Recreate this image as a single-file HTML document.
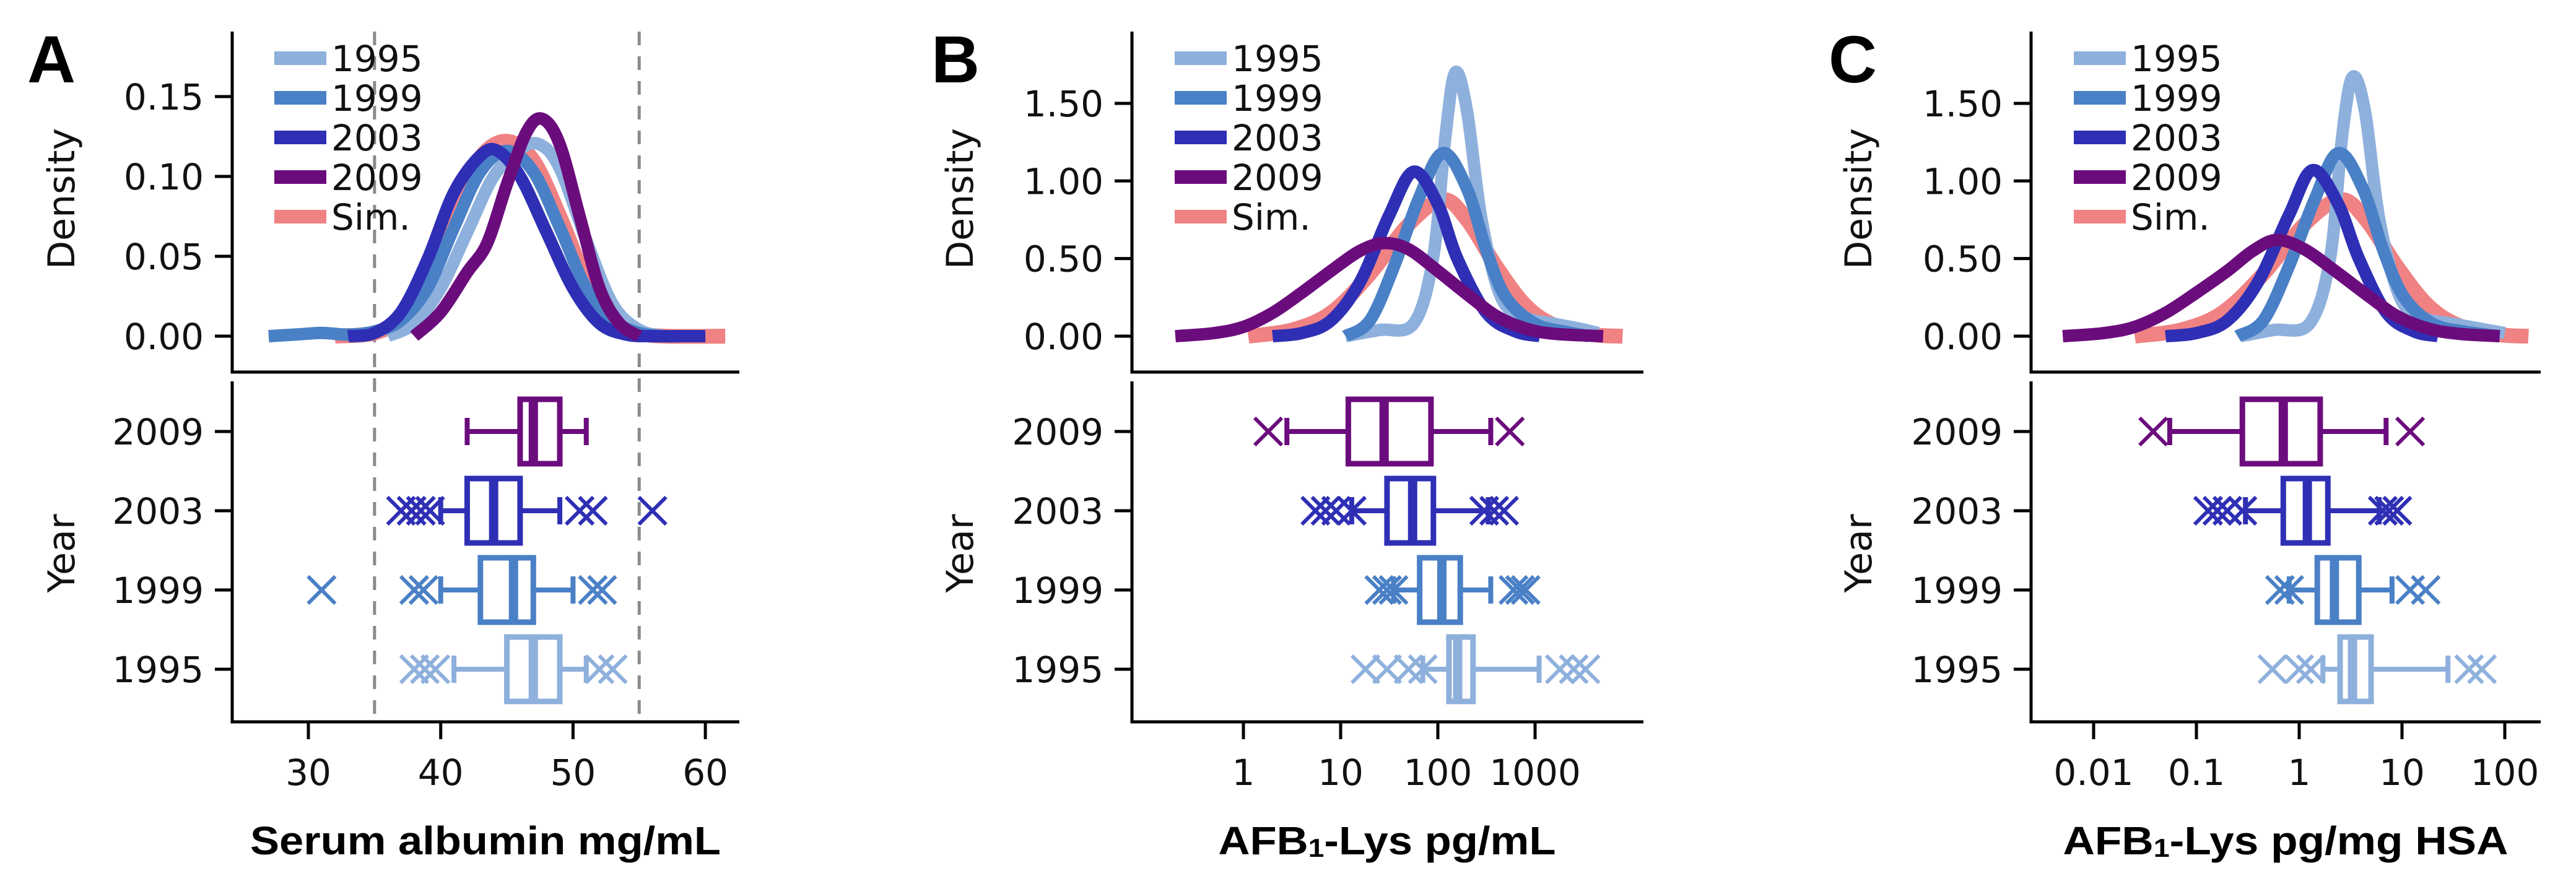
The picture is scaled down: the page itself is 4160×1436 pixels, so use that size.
<!DOCTYPE html>
<html><head><meta charset="utf-8">
<style>
html,body{margin:0;padding:0;background:#fff;}
svg{display:block;font-family:"DejaVu Sans","Liberation Sans",sans-serif;}
</style></head>
<body>
<svg id="fig" width="4160" height="1436" viewBox="0 0 4160 1436" xmlns="http://www.w3.org/2000/svg">
<rect x="0" y="0" width="4160" height="1436" fill="#fff"/>
</svg>
<script>
// ---------- shared data ----------
const seriesNames = ["Sim.", "1995", "1999", "2003", "2009"];
const legendNames = ["1995", "1999", "2003", "2009", "Sim."];
const yearCats = ["2009", "2003", "1999", "1995"];
const densityTicksA = [0, 0.05, 0.10, 0.15];
const densityTickLabelsA = ["0.00", "0.05", "0.10", "0.15"];
const densityTicksB = [0, 0.5, 1.0, 1.5];
const densityTickLabelsB = ["0.00", "0.50", "1.00", "1.50"];
const xTicksA = [30, 40, 50, 60];
const xTickLabelsA = ["30", "40", "50", "60"];
const xTicksB = [0, 1, 2, 3];
const xTickLabelsB = ["1", "10", "100", "1000"];
const xTicksC = [-2, -1, 0, 1, 2];
const xTickLabelsC = ["0.01", "0.1", "1", "10", "100"];
const refLinesA = [35, 55];

// ---------- Panel A density (x = mg/mL) ----------
const densA_sim_x = [32, 35, 37, 39, 41, 43, 45, 47, 49, 51, 53, 55, 57, 61.5];
const densA_sim_y = [0, 0.002, 0.012, 0.04, 0.08, 0.112, 0.122, 0.11, 0.075, 0.035, 0.01, 0.002, 0, 0];
const densA_1995_x = [36, 38, 40, 42, 44, 46, 47.5, 49, 51, 53, 55, 57];
const densA_1995_y = [0, 0.008, 0.03, 0.065, 0.1, 0.117, 0.12, 0.105, 0.06, 0.02, 0.004, 0];
const densA_1999_x = [27, 29, 31, 33, 35, 37, 39, 41, 43, 45, 47, 49, 51, 53, 55, 57, 58];
const densA_1999_y = [0, 0.001, 0.002, 0.001, 0.003, 0.01, 0.03, 0.068, 0.103, 0.116, 0.103, 0.068, 0.03, 0.01, 0.002, 0, 0];
const densA_2003_x = [33, 35, 37, 39, 41, 43, 44.3, 46, 48, 50, 52, 54, 56, 58, 60];
const densA_2003_y = [0, 0.002, 0.015, 0.048, 0.09, 0.113, 0.116, 0.1, 0.065, 0.03, 0.008, 0.001, 0, 0, 0];
const densA_2009_x = [38, 40, 42, 43.5, 45, 46.5, 47.7, 49, 50.5, 52, 53.5, 55];
const densA_2009_y = [0, 0.015, 0.04, 0.058, 0.095, 0.128, 0.136, 0.12, 0.075, 0.03, 0.008, 0];

// ---------- Panel B density (x = log10 pg/mL) ----------
const densB_sim_x = [0.05, 0.5, 0.9, 1.3, 1.7, 2.05, 2.3, 2.6, 2.9, 3.2, 3.6, 3.9];
const densB_sim_y = [0, 0.04, 0.15, 0.4, 0.72, 0.88, 0.75, 0.45, 0.2, 0.07, 0.01, 0];
const densB_1995_x = [1.05, 1.4, 1.75, 1.95, 2.08, 2.18, 2.3, 2.45, 2.65, 2.9, 3.2, 3.45, 3.65];
const densB_1995_y = [0, 0.04, 0.08, 0.5, 1.3, 1.7, 1.45, 0.75, 0.25, 0.12, 0.08, 0.05, 0.02];
const densB_1999_x = [1.05, 1.3, 1.55, 1.8, 2.05, 2.3, 2.5, 2.7, 3.0, 3.3, 3.55];
const densB_1999_y = [0, 0.1, 0.45, 0.88, 1.18, 0.95, 0.55, 0.25, 0.08, 0.03, 0];
const densB_2003_x = [0.3, 0.6, 0.9, 1.2, 1.5, 1.75, 2.0, 2.2, 2.5, 2.8, 3.05];
const densB_2003_y = [0, 0.02, 0.1, 0.35, 0.78, 1.06, 0.85, 0.5, 0.15, 0.03, 0];
const densB_2009_x = [-0.7, -0.3, 0, 0.3, 0.6, 0.9, 1.2, 1.45, 1.7, 2.0, 2.3, 2.6, 2.9, 3.2, 3.7];
const densB_2009_y = [0, 0.02, 0.06, 0.15, 0.28, 0.42, 0.55, 0.6, 0.56, 0.42, 0.27, 0.13, 0.05, 0.015, 0];

// ---------- Panel C density (x = log10 pg/mg HSA) ----------
const densC_sim_x = [-1.6, -1.15, -0.75, -0.35, 0.05, 0.4, 0.65, 0.95, 1.25, 1.55, 1.95, 2.23];
const densC_sim_y = [0, 0.04, 0.15, 0.4, 0.72, 0.88, 0.75, 0.45, 0.2, 0.07, 0.01, 0];
const densC_1995_x = [-0.57, -0.25, 0.1, 0.3, 0.42, 0.52, 0.64, 0.78, 0.98, 1.2, 1.5, 1.75, 2.0];
const densC_1995_y = [0, 0.04, 0.08, 0.5, 1.3, 1.67, 1.45, 0.75, 0.25, 0.12, 0.08, 0.05, 0.02];
const densC_1999_x = [-0.6, -0.35, -0.1, 0.15, 0.38, 0.62, 0.82, 1.02, 1.3, 1.6, 1.95];
const densC_1999_y = [0, 0.1, 0.45, 0.88, 1.18, 0.95, 0.55, 0.25, 0.08, 0.03, 0];
const densC_2003_x = [-1.3, -1.0, -0.7, -0.4, -0.1, 0.13, 0.38, 0.58, 0.85, 1.12, 1.35];
const densC_2003_y = [0, 0.02, 0.1, 0.35, 0.78, 1.07, 0.85, 0.5, 0.15, 0.03, 0];
const densC_2009_x = [-2.3, -1.9, -1.6, -1.3, -1.0, -0.7, -0.45, -0.22, 0.05, 0.35, 0.65, 0.95, 1.25, 1.55, 1.95];
const densC_2009_y = [0, 0.02, 0.06, 0.15, 0.28, 0.42, 0.55, 0.62, 0.56, 0.42, 0.27, 0.13, 0.05, 0.015, 0];

// ---------- Box plot stats: [whiskerLo, q1, median, q3, whiskerHi] by year (2009,2003,1999,1995) ----------
const boxA = [[42, 46, 47, 49, 51], [40, 42, 44, 46, 49], [40, 43, 45.5, 47, 50], [41, 45, 47, 49, 51]];
const outA = [[], [37, 37.8, 38.5, 39.2, 50.5, 51.5, 56], [31, 38, 38.7, 51.5, 52.2], [38, 38.8, 39.6, 52, 53]];
const boxB = [[2.8, 12, 28, 85, 350], [13, 30, 55, 90, 330], [35, 65, 110, 170, 350], [70, 130, 160, 230, 1100]];
const outB = [[1.8, 550], [5.5, 7, 9, 13, 300, 380, 480], [25, 30, 35, 600, 700, 800], [18, 30, 50, 70, 1800, 2500, 3300]];
const boxC = [[0.055, 0.28, 0.7, 1.6, 7], [0.3, 0.7, 1.2, 1.9, 6], [0.8, 1.5, 2.2, 3.8, 8], [1.7, 2.5, 3.3, 5, 28]];
const outC = [[0.038, 12], [0.13, 0.16, 0.2, 0.28, 6.5, 7.5, 9], [0.65, 0.8, 12, 17], [0.55, 1.0, 1.3, 45, 60]];

// ---------- rendering ----------
const NS = "http://www.w3.org/2000/svg";
const svg = document.getElementById("fig");
const colors = {"1995": "#8eb0dc", "1999": "#4a80c6", "2003": "#2f2fb5", "2009": "#6b0c7d", "Sim.": "#f08283"};
function mk(tag, attrs, parent) {
  const e = document.createElementNS(NS, tag);
  for (const k in attrs) e.setAttribute(k, attrs[k]);
  (parent || svg).appendChild(e);
  return e;
}
function smoothPath(pts) {
  let d = "M" + pts[0][0].toFixed(1) + "," + pts[0][1].toFixed(1);
  for (let i = 0; i < pts.length - 1; i++) {
    const p0 = pts[Math.max(0, i - 1)], p1 = pts[i], p2 = pts[i + 1], p3 = pts[Math.min(pts.length - 1, i + 2)];
    const c1x = p1[0] + (p2[0] - p0[0]) / 6, c1y = p1[1] + (p2[1] - p0[1]) / 6;
    const c2x = p2[0] - (p3[0] - p1[0]) / 6, c2y = p2[1] - (p3[1] - p1[1]) / 6;
    d += " C" + c1x.toFixed(1) + "," + c1y.toFixed(1) + " " + c2x.toFixed(1) + "," + c2y.toFixed(1) + " " + p2[0].toFixed(1) + "," + p2[1].toFixed(1);
  }
  return d;
}
const TOP = 51, TOPBOT = 601, BOTTOP = 616, BOTBOT = 1166;
const yearY = {"2009": 697, "2003": 825, "1999": 953, "1995": 1081};

function panel(cfg) {
  const g = mk("g", {});
  
  
  const xs = cfg.xs, yd = v => 543 - v * cfg.dpx;
  const L = mk("text", {x: cfg.letterX, y: 133, "font-size": 108, "font-weight": "bold", fill: "#000", "font-family": "Liberation Sans, sans-serif"}, g);
  L.textContent = cfg.id;
  
  
  (cfg.refs || []).forEach(r => {
    const l = mk("line", {x1: xs(r), x2: xs(r), y1: TOP, y2: BOTBOT, stroke: "#8a8a8a", "stroke-width": 5, "stroke-dasharray": "22 18"}, g);
    
    
  });
  const ax = mk("path", {d: `M${cfg.sx},${TOP} V${TOPBOT} H${cfg.ex} M${cfg.sx},${BOTTOP} V${BOTBOT} H${cfg.ex}`, stroke: "#000", "stroke-width": 5, fill: "none"}, g);
  
  
  cfg.dTicks.forEach((t, i) => {
    const y = yd(t);
    const tl = mk("line", {x1: cfg.sx - 28, x2: cfg.sx, y1: y, y2: y, stroke: "#000", "stroke-width": 5}, g);
    
    
    const tx = mk("text", {x: cfg.sx - 46, y: y + 21, "font-size": 58, "text-anchor": "end", fill: "#111"}, g);
    tx.textContent = cfg.dLabels[i];
    
    
  });
  yearCats.forEach(c => {
    const y = yearY[c];
    const tl = mk("line", {x1: cfg.sx - 28, x2: cfg.sx, y1: y, y2: y, stroke: "#000", "stroke-width": 5}, g);
    
    
    const tx = mk("text", {x: cfg.sx - 46, y: y + 21, "font-size": 58, "text-anchor": "end", fill: "#111"}, g);
    tx.textContent = c;
    
    
  });
  cfg.xTicks.forEach((t, i) => {
    const x = xs(t);
    const tl = mk("line", {x1: x, x2: x, y1: BOTBOT, y2: BOTBOT + 28, stroke: "#000", "stroke-width": 5}, g);
    
    
    const tx = mk("text", {x: x, y: 1268, "font-size": 58, "text-anchor": "middle", fill: "#111"}, g);
    tx.textContent = cfg.xLabels[i];
    
    
  });
  const d1 = mk("text", {x: 0, y: 0, "font-size": 60, "text-anchor": "middle", fill: "#111", transform: `translate(${cfg.ylabX + 20},321) rotate(-90)`}, g);
  d1.textContent = "Density";
  
  
  const d2 = mk("text", {x: 0, y: 0, "font-size": 60, "text-anchor": "middle", fill: "#111", transform: `translate(${cfg.ylabX + 20},894) rotate(-90)`}, g);
  d2.textContent = "Year";
  
  
  const xt = mk("text", {x: cfg.xlabX, y: 1380, "font-size": 64, "font-weight": "bold", "text-anchor": "middle", fill: "#000", textLength: cfg.xlabW, lengthAdjust: "spacingAndGlyphs", "font-family": "Liberation Sans, sans-serif"}, g);
  xt.innerHTML = cfg.xlab;
  
  
  seriesNames.forEach(s => {
    const dx = cfg.dens[s][0], dy = cfg.dens[s][1];
    const pts = dx.map((v, i) => [xs(v), yd(dy[i])]);
    const p = mk("path", {d: smoothPath(pts), fill: "none", stroke: colors[s], "stroke-width": s === "Sim." ? 24 : 20, "stroke-linejoin": "round"}, g);
    
    
  });
  legendNames.forEach((s, i) => {
    const y = 94 + i * 64;
    const l = mk("line", {x1: cfg.legX, x2: cfg.legX + 84, y1: y, y2: y, stroke: colors[s], "stroke-width": 22}, g);
    
    
    const t = mk("text", {x: cfg.legX + 92, y: y + 21, "font-size": 58, fill: "#111"}, g);
    t.textContent = s;
    
    
  });
  yearCats.forEach((c, i) => {
    const b = cfg.box[i], col = colors[c], y = yearY[c], h = 52;
    const bg = mk("g", {}, g);
    
    
    mk("line", {x1: xs(cfg.tf(b[0])), x2: xs(cfg.tf(b[1])), y1: y, y2: y, stroke: col, "stroke-width": 8}, bg);
    mk("line", {x1: xs(cfg.tf(b[3])), x2: xs(cfg.tf(b[4])), y1: y, y2: y, stroke: col, "stroke-width": 8}, bg);
    mk("line", {x1: xs(cfg.tf(b[0])), x2: xs(cfg.tf(b[0])), y1: y - 22, y2: y + 22, stroke: col, "stroke-width": 8}, bg);
    mk("line", {x1: xs(cfg.tf(b[4])), x2: xs(cfg.tf(b[4])), y1: y - 22, y2: y + 22, stroke: col, "stroke-width": 8}, bg);
    mk("rect", {x: xs(cfg.tf(b[1])), y: y - h, width: xs(cfg.tf(b[3])) - xs(cfg.tf(b[1])), height: 2 * h, fill: "#fff", stroke: col, "stroke-width": 9}, bg);
    mk("line", {x1: xs(cfg.tf(b[2])), x2: xs(cfg.tf(b[2])), y1: y - h, y2: y + h, stroke: col, "stroke-width": 15}, bg);
    cfg.out[i].forEach(o => {
      const x = xs(cfg.tf(o)), r = 22;
      const m = mk("path", {d: `M${x - r},${y - r} L${x + r},${y + r} M${x - r},${y + r} L${x + r},${y - r}`, stroke: col, "stroke-width": 6, fill: "none"}, bg);
      
      
    });
  });
}

const id = v => v, lg = v => Math.log10(v);
panel({id: "A", letterX: 44, sx: 375, ex: 1194, xs: v => 498 + (v - 30) * 21.37, dpx: 2580,
  dTicks: densityTicksA, dLabels: densityTickLabelsA, xTicks: xTicksA, xLabels: xTickLabelsA,
  refs: refLinesA, ylabX: 100, legX: 443, xlabX: 784, xlabW: 760, xlab: "Serum albumin mg/mL",
  dens: {"Sim.": [densA_sim_x, densA_sim_y], "1995": [densA_1995_x, densA_1995_y], "1999": [densA_1999_x, densA_1999_y], "2003": [densA_2003_x, densA_2003_y], "2009": [densA_2009_x, densA_2009_y]},
  box: boxA, out: outA, tf: id});
panel({id: "B", letterX: 1504, sx: 1828, ex: 2654, xs: v => 2008 + v * 157, dpx: 250.7,
  dTicks: densityTicksB, dLabels: densityTickLabelsB, xTicks: xTicksB, xLabels: xTickLabelsB,
  ylabX: 1551, legX: 1897, xlabX: 2240, xlabW: 545, xlab: "AFB<tspan font-size='42' dy='4'>1</tspan><tspan dy='-4'>-Lys pg/mL</tspan>",
  dens: {"Sim.": [densB_sim_x, densB_sim_y], "1995": [densB_1995_x, densB_1995_y], "1999": [densB_1999_x, densB_1999_y], "2003": [densB_2003_x, densB_2003_y], "2009": [densB_2009_x, densB_2009_y]},
  box: boxB, out: outB, tf: lg});
panel({id: "C", letterX: 2953, sx: 3280, ex: 4103, xs: v => 3713 + v * 166, dpx: 250.7,
  dTicks: densityTicksB, dLabels: densityTickLabelsB, xTicks: xTicksC, xLabels: xTickLabelsC,
  ylabX: 3002, legX: 3349, xlabX: 3691, xlabW: 719, xlab: "AFB<tspan font-size='42' dy='4'>1</tspan><tspan dy='-4'>-Lys pg/mg HSA</tspan>",
  dens: {"Sim.": [densC_sim_x, densC_sim_y], "1995": [densC_1995_x, densC_1995_y], "1999": [densC_1999_x, densC_1999_y], "2003": [densC_2003_x, densC_2003_y], "2009": [densC_2009_x, densC_2009_y]},
  box: boxC, out: outC, tf: lg});
</script>
</body></html>
